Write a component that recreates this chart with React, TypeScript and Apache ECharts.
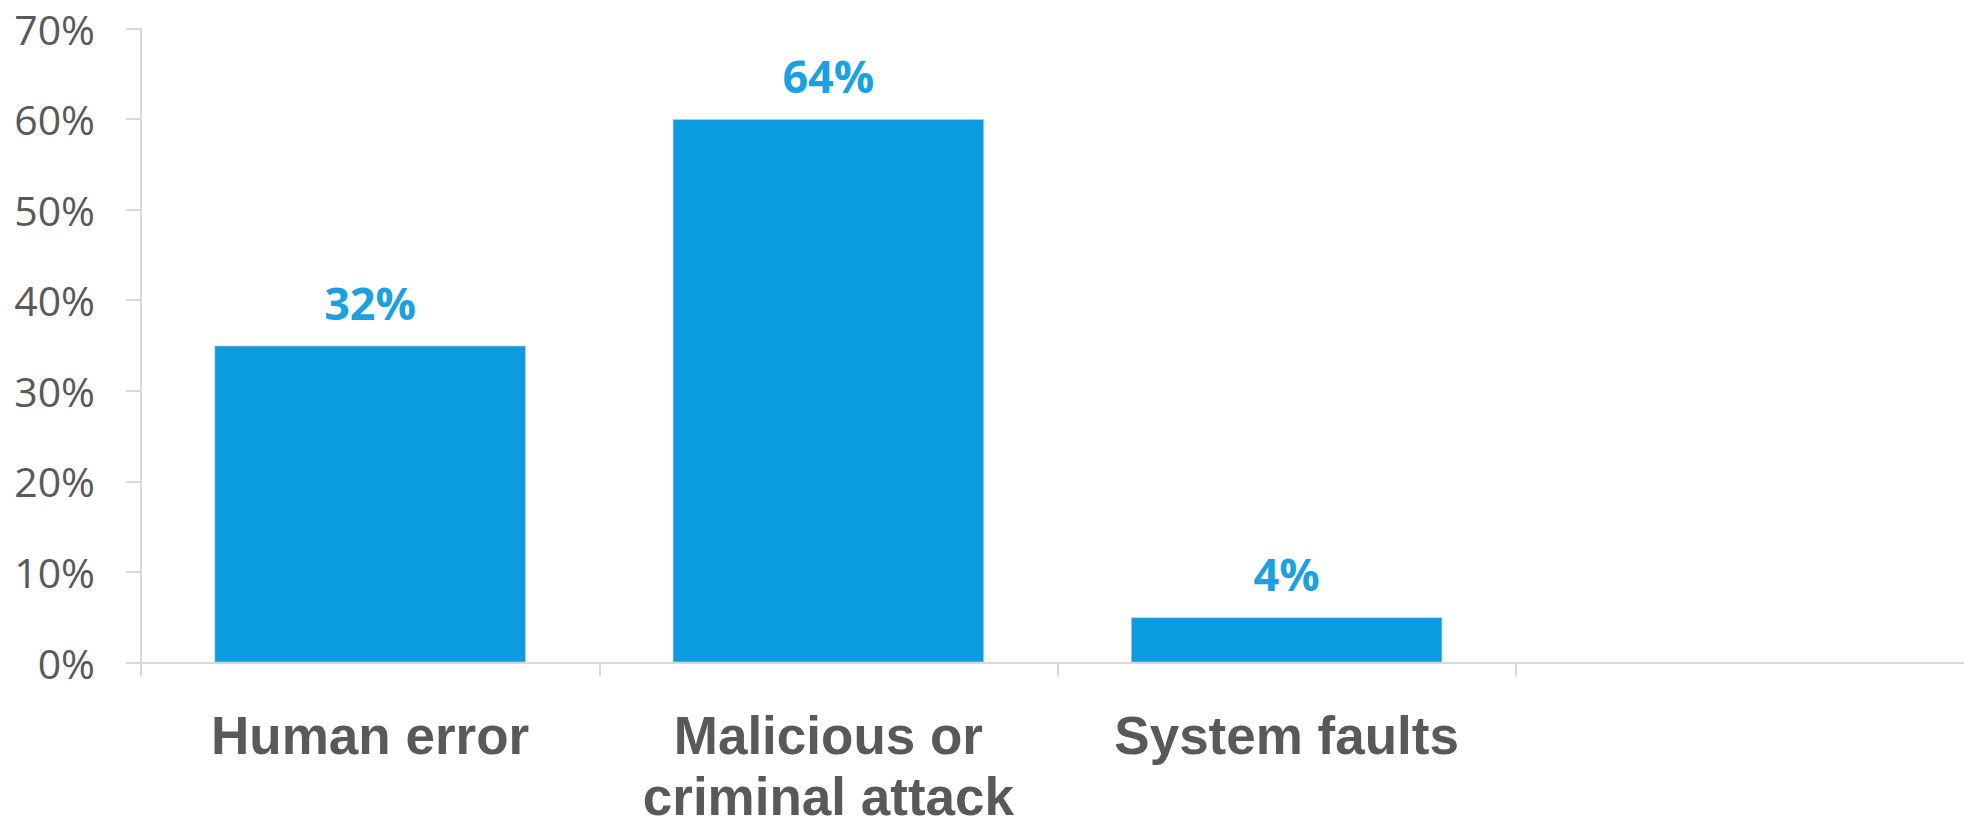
import React, { useEffect, useRef } from "react";
import * as echarts from "echarts";

const categories = ["Human error", "Malicious or\ncriminal attack", "System faults", ""];
const barValues = [35, 60, 5, null];
const barLabels = ["32%", "64%", "4%", ""];
const yTicks = { min: 0, max: 70, interval: 10 };

export default function App() {
  const ref = useRef<HTMLDivElement>(null);
  useEffect(() => {
    if (!ref.current) return;
    const chart = echarts.init(ref.current, null, { renderer: "svg" });
    chart.setOption({
      animation: false,
      backgroundColor: "#ffffff",
      grid: {
        left: 141,
        top: 28.5,
        height: 634,
        width: 1833,
        outerBoundsMode: "none",
        containLabel: false,
      },
      xAxis: {
        type: "category",
        data: categories,
        boundaryGap: true,
        axisLine: { show: true, lineStyle: { color: "#D9D9D9", width: 2 } },
        axisTick: { show: true, length: 14, lineStyle: { color: "#D9D9D9", width: 2 } },
        axisLabel: {
          interval: 0,
          margin: 42,
          color: "#595959",
          fontFamily: "Liberation Sans, Arial, sans-serif",
          fontWeight: "bold",
          fontSize: 53,
          lineHeight: 61,
        },
        splitLine: { show: false },
      },
      yAxis: {
        type: "value",
        min: yTicks.min,
        max: yTicks.max,
        interval: yTicks.interval,
        axisLine: { show: true, lineStyle: { color: "#D9D9D9", width: 2 } },
        axisTick: { show: true, length: 15, lineStyle: { color: "#D9D9D9", width: 2 } },
        axisLabel: {
          margin: 46,
          color: "#595959",
          fontFamily: "Open Sans, sans-serif",
          fontSize: 41,
          formatter: "{value}%",
        },
        splitLine: { show: false },
      },
      series: [
        {
          type: "bar",
          data: barValues,
          barCategoryGap: "32%",
          itemStyle: { color: "#0B9BDF", borderColor: "rgba(200,200,200,0.7)", borderWidth: 1 },
          label: {
            show: true,
            position: "top",
            distance: 21,
            color: "#1BA1E2",
            fontFamily: "Open Sans, sans-serif",
            fontWeight: "bold",
            fontSize: 45,
            lineHeight: 45,
            formatter: (p: any) => barLabels[p.dataIndex] ?? "",
          },
        },
      ],
    });
    return () => chart.dispose();
  }, []);
  return (
    <div
      ref={ref}
      style={{ position: "absolute", left: 0, top: 0, width: 1964, height: 820 }}
    />
  );
}
